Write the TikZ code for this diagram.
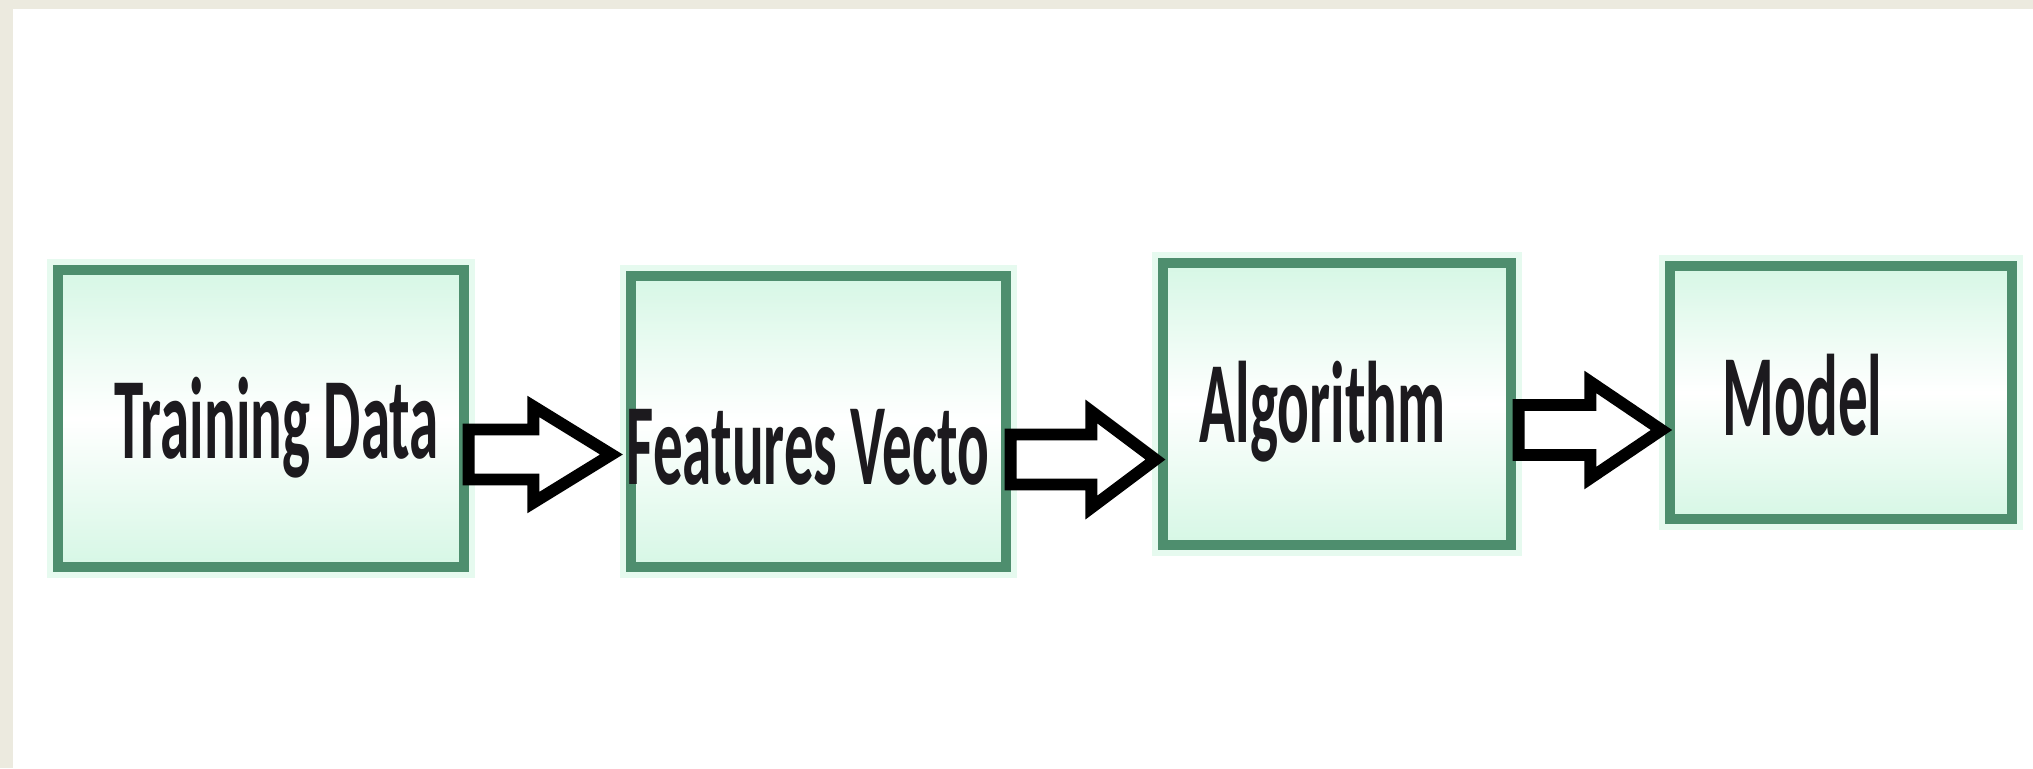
\documentclass[tikz,border=0pt]{standalone}
\usepackage{fontspec}
\setmainfont{Carlito}
\usepackage{graphicx}
\usepackage{xcolor}
\usepackage{tikz}
\usetikzlibrary{calc}

\definecolor{frame}{HTML}{ECEADF}
\definecolor{boxgreen}{HTML}{4E8E6E}
\definecolor{boxmint}{HTML}{D6F7E5}
\definecolor{boxglow}{HTML}{E6FAEF}
\definecolor{inkdark}{HTML}{1C1A1E}

\newcommand{\squeeze}[1]{\scalebox{0.51}[1]{#1}}
\newcommand{\blockarrow}[3]{%
  \draw[blockarrow] let \p1=(#1), \p2=(#2) in
    (\x1,\y1+2.5mm) -- (\x2-#3,\y1+2.5mm) -- (\x2-#3,\y1+4.8mm) -- (\x2,\y1)
    -- (\x2-#3,\y1-4.8mm) -- (\x2-#3,\y1-2.5mm) -- (\x1,\y1-2.5mm) -- cycle;}

\tikzset{
  stage/.style={draw=boxgreen, line width=2.6pt, inner sep=0pt,
    top color=boxmint, bottom color=boxmint, middle color=white,
    preaction={draw=boxglow, line width=6pt}},
  lbl/.style={anchor=west, inner sep=0pt, text=inkdark,
    font=\fontsize{33}{36}\selectfont\bfseries},
  blockarrow/.style={draw=black, fill=white, line width=3.4pt, line join=miter}
}

\begin{document}
\begin{tikzpicture}
  \useasboundingbox (0,0) rectangle (20.33,-7.68);
  \fill[frame] (0,0) rectangle (20.33,-7.68);
  \fill[white] (0.13,-0.09) rectangle (20.33,-7.68);

  % boxes
  \node[stage, minimum width=4.06cm, minimum height=2.97cm] (td) at (2.61,-4.185) {};
  \node[stage, minimum width=3.75cm, minimum height=2.91cm] (fv) at (8.185,-4.215) {};
  \node[stage, minimum width=3.48cm, minimum height=2.82cm] (alg) at (13.37,-4.04) {};
  \node[stage, minimum width=3.42cm, minimum height=2.53cm] (mdl) at (18.41,-3.925) {};

  % arrows
  \blockarrow{$(td.east)+(0,-0.36)$}{$(fv.west)+(-0.15,0)$}{0.78cm}
  \blockarrow{$(fv.east)+(0,-0.38)$}{$(alg.west)+(-0.03,0)$}{0.64cm}
  \blockarrow{$(alg.east)+(0.03,-0.26)$}{$(mdl.west)+(-0.04,0)$}{0.71cm}

  % labels
  \node[lbl] (tdtext) at (1.14,-4.28) {\squeeze{Training Data}};
  \node[lbl] (fvtext) at (6.26,-4.47) {\squeeze{Features Vecto}};
  \node[lbl] (algtext) at (11.99,-4.12) {\squeeze{Algorithm}};
  \node[lbl] (mdltext) at (17.22,-3.95) {\squeeze{Model}};
\end{tikzpicture}
\end{document}
